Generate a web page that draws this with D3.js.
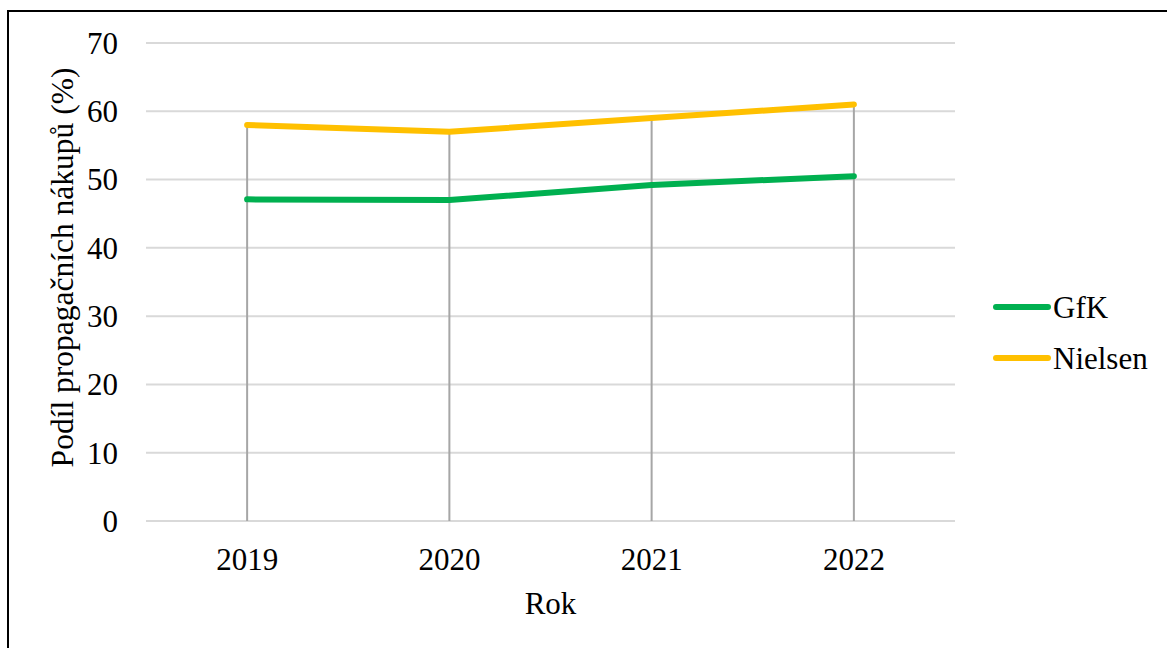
<!DOCTYPE html>
<html>
<head>
<meta charset="utf-8">
<script src="https://cdn.jsdelivr.net/npm/d3@7"></script>
<style>
  html, body { margin: 0; padding: 0; background: #fff; }
  svg { display: block; }
</style>
</head>
<body>
<script>
const years = ["2019", "2020", "2021", "2022"];
const gfkValues = [47.1, 47.0, 49.2, 50.5];
const nielsenValues = [58, 57, 59, 61];
const yTicks = [0, 10, 20, 30, 40, 50, 60, 70];
const seriesNames = ["GfK", "Nielsen"];
const seriesColors = ["#00B050", "#FFC000"];
const yTitle = "Podíl propagačních nákupů (%)";
const xTitle = "Rok";

const FONT = "'Liberation Serif', Tinos, 'Times New Roman', Times, 'DejaVu Serif', serif";
const W = 1167, H = 648;
const svg = d3.select("body").append("svg").attr("width", W).attr("height", H)
  .style("font-family", FONT);

// outer border (top and left visible)
svg.append("rect").attr("x", 8).attr("y", 11).attr("width", W + 20).attr("height", H + 20)
  .attr("fill", "none").attr("stroke", "#000").attr("stroke-width", 2);

const plot = { left: 146, right: 955, top: 43, bottom: 521 };
const x = d3.scaleBand().domain(years).range([plot.left, plot.right]).padding(0);
const y = d3.scaleLinear().domain([0, 70]).range([plot.bottom, plot.top]);
const xc = d => x(d) + x.bandwidth() / 2;

function txt(sel) {
  return sel.style("font-family", FONT).attr("fill", "#000");
}

// gridlines
svg.append("g").selectAll("line").data(yTicks).join("line")
  .attr("x1", plot.left).attr("x2", plot.right)
  .attr("y1", d => y(d)).attr("y2", d => y(d))
  .attr("stroke", "#d9d9d9").attr("stroke-width", 2);

// y tick labels
txt(svg.append("g").selectAll("text").data(yTicks).join("text")
  .attr("x", 118).attr("y", d => y(d)).attr("dy", "0.35em")
  .attr("text-anchor", "end").attr("font-size", 31)
  .text(d => d));

// drop lines
const maxVals = years.map((yr, i) => Math.max(gfkValues[i], nielsenValues[i]));
svg.append("g").selectAll("line").data(years).join("line")
  .attr("x1", d => xc(d)).attr("x2", d => xc(d))
  .attr("y1", (d, i) => y(maxVals[i])).attr("y2", y(0))
  .attr("stroke", "#a6a6a6").attr("stroke-width", 2);

// x tick labels
txt(svg.append("g").selectAll("text").data(years).join("text")
  .attr("x", d => xc(d)).attr("y", 570)
  .attr("text-anchor", "middle").attr("font-size", 31)
  .text(d => d));

// lines
const line = d3.line().x((d, i) => xc(years[i])).y(d => y(d));
[gfkValues, nielsenValues].forEach((vals, k) => {
  svg.append("path").datum(vals)
    .attr("d", line).attr("fill", "none")
    .attr("stroke", seriesColors[k]).attr("stroke-width", 6)
    .attr("stroke-linecap", "round").attr("stroke-linejoin", "round");
});

// axis titles
txt(svg.append("text").attr("x", (plot.left + plot.right) / 2).attr("y", 614)
  .attr("text-anchor", "middle").attr("font-size", 31).text(xTitle));
txt(svg.append("text")
  .attr("transform", `translate(73, ${(65 + 470) / 2}) rotate(-90)`)
  .attr("text-anchor", "middle").attr("font-size", 31.5).text(yTitle));

// legend
const legY = [307, 358];
seriesNames.forEach((name, k) => {
  svg.append("line").attr("x1", 996).attr("x2", 1048)
    .attr("y1", legY[k]).attr("y2", legY[k])
    .attr("stroke", seriesColors[k]).attr("stroke-width", 6).attr("stroke-linecap", "round");
  txt(svg.append("text").attr("x", 1053).attr("y", legY[k] + 11)
    .attr("font-size", 31).text(name));
});
</script>
</body>
</html>
